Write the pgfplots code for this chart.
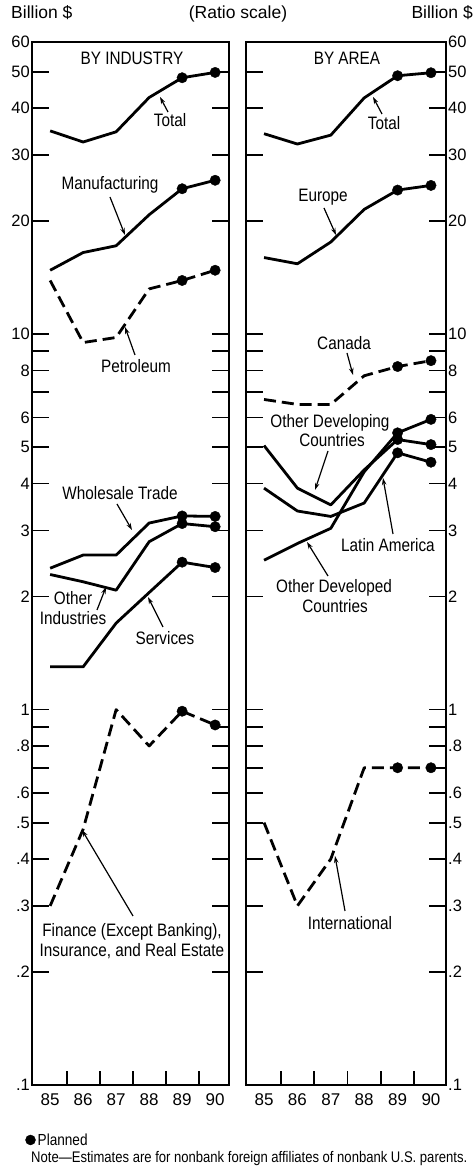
\documentclass[border=0pt]{standalone}
\usepackage{pgfplots}
\pgfplotsset{compat=1.18}
\usepackage{fontspec}
\setmainfont{Liberation Sans}[FakeStretch=0.85]
\newfontfamily\numfont{Liberation Sans}
\usetikzlibrary{arrows.meta}
\pgfplotsset{
  ln/.style={black, line width=2.8pt, line join=round, no marks, forget plot},
  dl/.style={black, line width=2.8pt, line join=round, no marks, forget plot, dash pattern=on 12pt off 6pt},
  pl/.style={black, only marks, mark=*, mark size=5.2pt, forget plot},
}
\tikzset{
  ann/.style={font=\fontsize{18}{20}\selectfont, inner sep=0pt, anchor=base},
  arr/.style={-{Stealth[length=7pt,width=4.5pt]}, line width=1.2pt},
}
\begin{document}
\begin{tikzpicture}[x=1pt,y=1pt]
\path[use as bounding box] (0,0) rectangle (474,1170);
% ---------------- BY INDUSTRY ----------------
\begin{axis}[at={(32pt,85pt)}, anchor=south west, scale only axis,
  width=197pt, height=1043pt, xmin=84.45, xmax=90.42,
  ymode=log, ymin=0.1, ymax=60,
  ytick={0.1,0.2,0.3,0.4,0.5,0.6,0.7,0.8,0.9,1,2,3,4,5,6,7,8,9,10,20,30,40,50,60},
  yticklabels={.1,.2,.3,.4,.5,.6,,.8,,1,2,3,4,5,6,,8,,10,20,30,40,50,60},
  minor ytick={},
  xtick={85,86,87,88,89,90},
  xticklabels={85,86,87,88,89,90},
  minor xtick={85.5,86.5,87.5,88.5,89.5},
  xtick pos=bottom,
  major x tick style={draw=none},
  tick align=inside,
  major tick length=17pt, minor tick length=14pt,
  axis line style={line width=1.8pt},
  tick style={black, line width=1.8pt},
  xticklabel style={font=\fontsize{17}{17}\selectfont\numfont, inner sep=2pt, yshift=-6pt},
  clip=false,
  ytick pos=both, yticklabel pos=left,
  yticklabel style={font=\fontsize{16.5}{16.5}\selectfont\numfont, inner sep=2pt},
  legend style={at={(-0.035,-0.0527)}, anchor=west, draw=none, fill=none,
    font=\fontsize{16}{16}\selectfont, inner sep=0pt},
  legend cell align=left]
\addlegendimage{black, legend image code/.code={\fill (5pt,0pt) circle (5pt);}}
\addlegendentry{Planned}
% Total
\addplot[ln] coordinates {(85,34.8)(86,32.5)(87,34.6)(88,42.7)(89,48.2)(90,49.8)};
\addplot[pl] coordinates {(89,48.2)(90,49.8)};
% Manufacturing
\addplot[ln] coordinates {(85,14.8)(86,16.5)(87,17.2)(88,20.8)(89,24.4)(90,25.7)};
\addplot[pl] coordinates {(89,24.4)(90,25.7)};
% Petroleum
\addplot[dl] coordinates {(85,13.9)(86,9.5)(87,9.8)(88,13.2)(89,13.9)(90,14.8)};
\addplot[pl] coordinates {(89,13.9)(90,14.8)};
% Wholesale Trade
\addplot[ln] coordinates {(85,2.38)(86,2.58)(87,2.58)(88,3.14)(89,3.28)(90,3.27)};
\addplot[pl] coordinates {(89,3.28)(90,3.27)};
% Other Industries
\addplot[ln] coordinates {(85,2.29)(86,2.19)(87,2.08)(88,2.80)(89,3.13)(90,3.07)};
\addplot[pl] coordinates {(89,3.13)(90,3.07)};
% Services
\addplot[ln] coordinates {(85,1.3)(86,1.3)(87,1.7)(88,2.05)(89,2.47)(90,2.39)};
\addplot[pl] coordinates {(89,2.47)(90,2.39)};
% Finance, Insurance, Real Estate
\addplot[dl] coordinates {(85,0.3)(86,0.48)(87,1.0)(88,0.8)(89,0.99)(90,0.91)};
\addplot[pl] coordinates {(89,0.99)(90,0.91)};
\end{axis}
% ---------------- BY AREA ----------------
\begin{axis}[at={(246pt,85pt)}, anchor=south west, scale only axis,
  width=200pt, height=1043pt, xmin=84.46, xmax=90.45,
  ymode=log, ymin=0.1, ymax=60,
  ytick={0.1,0.2,0.3,0.4,0.5,0.6,0.7,0.8,0.9,1,2,3,4,5,6,7,8,9,10,20,30,40,50,60},
  yticklabels={.1,.2,.3,.4,.5,.6,,.8,,1,2,3,4,5,6,,8,,10,20,30,40,50,60},
  minor ytick={},
  xtick={85,86,87,88,89,90},
  xticklabels={85,86,87,88,89,90},
  minor xtick={85.5,86.5,87.5,88.5,89.5},
  xtick pos=bottom,
  major x tick style={draw=none},
  tick align=inside,
  major tick length=17pt, minor tick length=14pt,
  axis line style={line width=1.8pt},
  tick style={black, line width=1.8pt},
  xticklabel style={font=\fontsize{17}{17}\selectfont\numfont, inner sep=2pt, yshift=-6pt},
  clip=false,
  ytick pos=both, yticklabel pos=right,
  yticklabel style={font=\fontsize{16.5}{16.5}\selectfont\numfont, inner sep=2pt}]
% Total
\addplot[ln] coordinates {(85,34.2)(86,32.1)(87,33.9)(88,42.6)(89,48.8)(90,49.7)};
\addplot[pl] coordinates {(89,48.8)(90,49.7)};
% Europe
\addplot[ln] coordinates {(85,16.0)(86,15.4)(87,17.6)(88,21.5)(89,24.2)(90,24.9)};
\addplot[pl] coordinates {(89,24.2)(90,24.9)};
% Canada
\addplot[dl] coordinates {(85,6.7)(86,6.5)(87,6.5)(88,7.75)(89,8.2)(90,8.5)};
\addplot[pl] coordinates {(89,8.2)(90,8.5)};
% Other Developing Countries
\addplot[ln] coordinates {(85,5.05)(86,3.89)(87,3.51)(88,4.35)(89,5.24)(90,5.08)};
\addplot[pl] coordinates {(89,5.24)(90,5.08)};
% Latin America
\addplot[ln] coordinates {(85,3.89)(86,3.38)(87,3.27)(88,3.55)(89,4.83)(90,4.56)};
\addplot[pl] coordinates {(89,4.83)(90,4.56)};
% Other Developed Countries
\addplot[ln] coordinates {(85,2.5)(86,2.77)(87,3.04)(88,4.3)(89,5.46)(90,5.93)};
\addplot[pl] coordinates {(89,5.46)(90,5.93)};
% International
\addplot[dl] coordinates {(85,0.5)(86,0.3)(87,0.4)(88,0.7)(89,0.7)(90,0.7)};
\addplot[pl] coordinates {(89,0.7)(90,0.7)};
\end{axis}
% ---------------- annotations ----------------
\node[font=\fontsize{17.5}{17.5}\selectfont\numfont, anchor=base west, inner sep=0pt] at (11,1151) {Billion \$};
\node[font=\fontsize{17.5}{17.5}\selectfont\numfont, anchor=base, inner sep=0pt] at (238,1151) {(Ratio scale)};
\node[font=\fontsize{17.5}{17.5}\selectfont\numfont, anchor=base east, inner sep=0pt] at (473,1151) {Billion \$};
% left panel
\node[ann] at (132,1105) {BY INDUSTRY};
\node[ann] at (170,1043) {Total};
\draw[arr] (168,1058) -- (160,1073);
\node[ann] at (110,980) {Manufacturing};
\draw[arr] (110,973) -- (125,935);
\node[ann] at (136,797) {Petroleum};
\draw[arr] (135,815) -- (125,843);
\node[ann] at (120,670) {Wholesale Trade};
\draw[arr] (117,666) -- (132,640);
\node[ann] at (73,565) {Other};
\node[ann] at (73,545) {Industries};
\draw[arr] (97,560) -- (106,583);
\node[ann] at (165,525) {Services};
\draw[arr] (163,543) -- (148,573);
\node[ann] at (132,233) {Finance (Except Banking),};
\node[ann] at (132,213) {Insurance, and Real Estate};
\draw[arr] (133,254) -- (82,340);
% right panel
\node[ann] at (347,1105) {BY AREA};
\node[ann] at (384,1040) {Total};
\draw[arr] (382,1056) -- (373,1073);
\node[ann] at (323,968) {Europe};
\draw[arr] (324,962) -- (336,935);
\node[ann] at (344,820) {Canada};
\draw[arr] (347,817) -- (353,795);
\node[ann] at (330,742) {Other Developing};
\node[ann] at (332,723) {Countries};
\draw[arr] (328,719) -- (315,680);
\node[ann] at (388,618) {Latin America};
\draw[arr] (393,636) -- (383,692);
\node[ann] at (334,577) {Other Developed};
\node[ann] at (335,557) {Countries};
\draw[arr] (328,594) -- (307,628);
\node[ann] at (350,240) {International};
\draw[arr] (345,259) -- (335,314);
% note
\node[anchor=base west, inner sep=0pt] at (31,7) {\resizebox{436pt}{!}{\fontsize{14}{16}\selectfont Note---Estimates are for nonbank foreign affiliates of nonbank U.S. parents.}};
\end{tikzpicture}
\end{document}
